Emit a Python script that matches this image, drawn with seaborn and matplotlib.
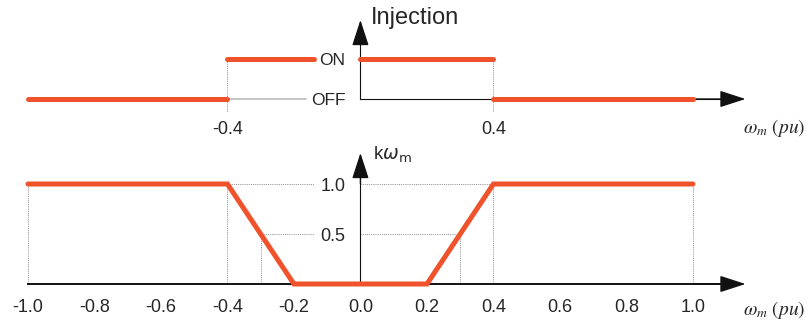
import matplotlib
matplotlib.use("Agg")
import matplotlib.pyplot as plt
import seaborn as sns
import pandas as pd

sns.set_style("white")
plt.rcParams["font.family"] = ["Liberation Sans", "DejaVu Sans"]

# ---- data ----
inj_seg = [0, 0, 1, 1, 2, 2, 3, 3]
inj_x = [-1.0, -0.4, -0.4, -0.14, 0.0, 0.4, 0.4, 1.0]
inj_y = [0, 0, 1, 1, 1, 1, 0, 0]
inj_ticks = [-0.4, 0.4]
inj_tick_labels = ["-0.4", "0.4"]
inj_levels = [0, 1]
inj_level_labels = ["OFF", "ON"]

k_x = [-1.0, -0.4, -0.2, 0.2, 0.4, 1.0]
k_y = [1.0, 1.0, 0.0, 0.0, 1.0, 1.0]
k_xticks = [-1.0, -0.8, -0.6, -0.4, -0.2, 0.0, 0.2, 0.4, 0.6, 0.8, 1.0]
k_yticks = [0.5, 1.0]
k_half_x = [-0.3, 0.3]

ORANGE = "#F0532B"
GRID = "#8a8a8a"
XMIN, XMAX = -1.084, 1.340
ARROW_X = 1.158

fig = plt.figure(figsize=(8.06, 3.22), dpi=100)
ax1 = fig.add_axes([0, 182 / 322, 1, 140 / 322])
ax2 = fig.add_axes([0, 0, 1, 177.1 / 322])

arrow_kw = dict(arrowstyle="-|>,head_length=0.8,head_width=0.26", mutation_scale=20,
                color="#111111", lw=1.0, shrinkA=0, shrinkB=0)

for ax in (ax1, ax2):
    ax.set_xlim(XMIN, XMAX)
    for s in ("top", "right"):
        ax.spines[s].set_visible(False)
    ax.spines["left"].set_position(("data", 0))
    ax.spines["bottom"].set_position(("data", 0))
    ax.set_facecolor("none")

# ---------- top panel ----------
ax1.set_ylim(-1.025, 2.475)
df_inj = pd.DataFrame({"x": inj_x, "y": inj_y, "seg": inj_seg})
ax1.plot([-0.4, -0.165], [0, 0], color="#c0c0c0", lw=1.3, zorder=1)
for xv in inj_ticks:
    ax1.plot([xv, xv], [1, -0.33], color=GRID, lw=0.7, ls=(0, (1, 1.2)), zorder=1)
sns.lineplot(data=df_inj, x="x", y="y", units="seg", estimator=None, ax=ax1,
             color=ORANGE, lw=3.6, solid_capstyle="round", zorder=4, clip_on=False)
ax1.spines["bottom"].set_bounds(0, ARROW_X - 0.05)
ax1.spines["left"].set_bounds(0, 1.9)
ax1.spines["bottom"].set_color("#111111")
ax1.spines["left"].set_color("#111111")
ax1.annotate("", xy=(ARROW_X, 0), xytext=(1.0, 0), arrowprops=arrow_kw)
ax1.annotate("", xy=(0, 1.975), xytext=(0, 1.4), arrowprops=arrow_kw)
ax1.set_xticks(inj_ticks)
ax1.set_xticklabels(inj_tick_labels)
ax1.set_yticks(inj_levels)
ax1.set_yticklabels(inj_level_labels)
ax1.tick_params(axis="x", length=0, pad=16, labelsize=13)
ax1.tick_params(axis="y", direction="out", length=6, width=0.8, color="#111111",
                pad=5, labelsize=12.5)
ax1.set_xlabel("")
ax1.set_ylabel("")
ax1.text(0.03, 2.025, "Injection", fontsize=17, ha="left", va="center")
ax1.text(1.150, -0.72, r"$\omega_m\ (pu)$", math_fontfamily="stix", fontsize=14,
         ha="left", va="center")

# ---------- bottom panel ----------
ax2.set_ylim(-0.38, 1.391)
dot = dict(color=GRID, lw=0.7, ls=(0, (1, 1.2)), zorder=1)
for xv in [-1.0, -0.4, 0.4, 1.0]:
    ax2.plot([xv, xv], [0, 1.0], **dot)
for xv in k_half_x:
    ax2.plot([xv, xv], [0, 0.5], **dot)
ax2.plot([-0.4, -0.141], [1.0, 1.0], **dot)
ax2.plot([0, 0.4], [1.0, 1.0], **dot)
ax2.plot([-0.3, -0.141], [0.5, 0.5], **dot)
ax2.plot([0, 0.3], [0.5, 0.5], **dot)
df_k = pd.DataFrame({"x": k_x, "y": k_y})
sns.lineplot(data=df_k, x="x", y="y", ax=ax2, color=ORANGE, lw=3.6,
             solid_capstyle="round", solid_joinstyle="miter", zorder=4, clip_on=False)
ax2.spines["bottom"].set_bounds(-1.0, ARROW_X - 0.05)
ax2.spines["left"].set_bounds(0, 1.25)
ax2.spines["bottom"].set_color("#111111")
ax2.spines["left"].set_color("#111111")
ax2.spines["bottom"].set_linewidth(1.4)
ax2.annotate("", xy=(ARROW_X, 0), xytext=(1.0, 0), arrowprops=arrow_kw)
ax2.annotate("", xy=(0, 1.31), xytext=(0, 1.0), arrowprops=arrow_kw)
ax2.set_xticks(k_xticks)
ax2.set_xticklabels([f"{v:.1f}" for v in k_xticks])
ax2.set_yticks(k_yticks)
ax2.set_yticklabels([f"{v:.1f}" for v in k_yticks])
ax2.tick_params(axis="x", direction="out", length=9, width=0.8, color="#777777",
                pad=2, labelsize=13)
ax2.tick_params(axis="y", direction="out", length=6, width=0.8, color="#555555",
                pad=5, labelsize=13)
ax2.set_xlabel("")
ax2.set_ylabel("")
ax2.text(0.039, 1.29, r"k$\omega_{\mathrm{m}}$", math_fontfamily="dejavusans",
         fontsize=13.5, ha="left", va="center")
ax2.text(1.150, -0.26, r"$\omega_m\ (pu)$", math_fontfamily="stix", fontsize=14,
         ha="left", va="center")

fig.savefig("out.png", dpi=100)
